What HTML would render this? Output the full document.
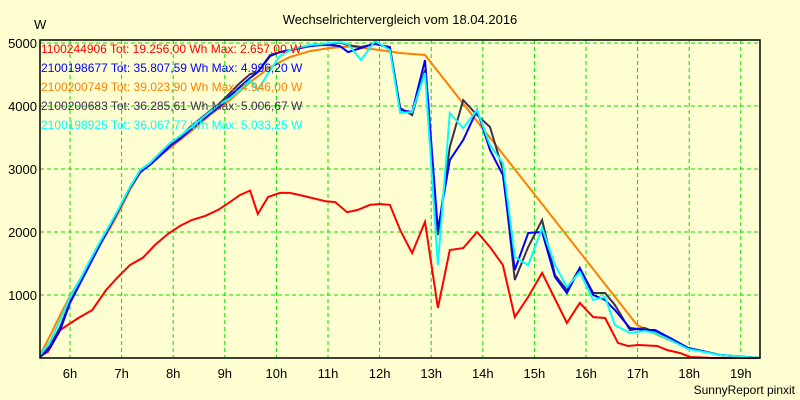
<!DOCTYPE html>
<html><head><meta charset="utf-8"><style>
body{margin:0;background:#ffffd2;}
svg{display:block;font-family:"Liberation Sans",sans-serif;}
</style></head><body>
<svg id="chart" width="800" height="400">
<rect x="0" y="0" width="800" height="400" fill="#ffffd2"/>
<text x="400" y="24" font-size="13" text-anchor="middle">Wechselrichtervergleich vom 18.04.2016</text>
<text x="34" y="29" font-size="13">W</text>
<text x="795" y="394" font-size="12" text-anchor="end">SunnyReport pinxit</text>
<g id="grid"></g><g id="series"></g><g id="legend"></g><g id="axes"></g>
</svg>
<script>
const xTicks=[6,7,8,9,10,11,12,13,14,15,16,17,18,19];
const yTicks=[1000,2000,3000,4000,5000];
const seriesNames=["1100244906","2100198677","2100200749","2100200683","2100198925"];
const seriesColors=["#ff0000","#0000ff","#ff8000","#403050","#00ffff"];
const legendTot=["19.256,00","35.807,59","39.023,90","36.285,61","36.067,77"];
const legendMax=["2.657,00","4.996,20","4.946,00","5.006,67","5.033,25"];
const redT=[5.42,5.57,5.81,6.16,6.43,6.70,6.93,7.16,7.41,7.65,7.90,8.13,8.36,8.62,8.87,9.10,9.29,9.49,9.64,9.84,10.07,10.26,10.46,10.69,10.94,11.14,11.37,11.58,11.81,12.01,12.20,12.40,12.63,12.88,13.13,13.36,13.62,13.89,14.14,14.39,14.62,14.88,15.15,15.63,15.88,16.14,16.37,16.62,16.81,17.01,17.38,17.57,17.82,18.02,18.46,19.37];
const redV=[30,95,445,635,760,1080,1285,1475,1590,1795,1970,2095,2190,2255,2350,2475,2585,2657,2285,2555,2620,2620,2585,2540,2490,2475,2315,2350,2430,2445,2430,2030,1665,2160,795,1715,1745,2000,1760,1475,650,970,1350,555,875,650,635,240,190,206,190,127,79,16,0,0];
const gridT=[5.42,5.61,5.81,6.00,6.19,6.39,6.58,6.78,6.97,7.16,7.36,7.55,7.74,7.94,8.13,8.33,8.52,8.71,8.91,9.10,9.29,9.49,9.64,9.88,10.07,10.26,10.46,10.65,10.84,11.04,11.23,11.39,11.64,11.91,12.20,12.40,12.63,12.88,13.13,13.36,13.62,13.89,14.14,14.39,14.62,14.88,15.15,15.40,15.63,15.88,16.14,16.37,16.56,16.85,17.14,17.34,17.63,17.98,18.60,19.37];
const blueV=[16,159,444,873,1174,1492,1793,2095,2396,2698,2952,3063,3206,3364,3476,3618,3745,3872,3999,4158,4301,4444,4539,4793,4856,4888,4920,4951,4967,4967,4951,4856,4920,4996,4920,3936,3904,4729,2031,3142,3460,3936,3301,2904,1397,1984,2000,1285,1032,1428,1000,920,762,476,444,444,317,159,48,0];
const darkV=[16,190,492,889,1190,1508,1809,2111,2396,2698,2952,3079,3238,3396,3507,3666,3793,3920,4047,4206,4364,4507,4539,4809,4856,4888,4920,4951,4967,4983,5007,4967,4936,4983,4936,3968,3856,4571,1952,3349,4094,3856,3666,2984,1238,1762,2190,1317,1079,1428,1032,1032,841,444,476,413,317,159,48,0];
const cyanV=[48,254,603,968,1238,1555,1841,2127,2412,2714,2984,3095,3253,3412,3523,3650,3777,3904,4031,4126,4253,4412,4253,4571,4793,4888,4936,4967,4983,4999,5015,4983,4729,5033,4888,3888,3904,4523,1476,3888,3650,3936,3380,3095,1603,1476,2063,1476,1127,1365,920,968,524,397,428,397,286,143,48,0];
const orangeT=[5.42,5.61,5.81,6.00,6.19,6.39,6.58,6.78,6.97,7.16,7.36,7.55,7.94,8.33,8.71,9.10,9.49,9.88,10.26,10.65,11.04,11.43,12.01,12.40,12.88,16.99,17.43,17.98,18.60,19.37];
const orangeV=[48,349,682,984,1238,1524,1793,2063,2349,2666,2936,3095,3333,3587,3856,4094,4380,4618,4777,4872,4920,4946,4888,4841,4809,524,349,159,48,0];

const NS="http://www.w3.org/2000/svg";
const X0=40,X1=760,Y0=358,YT=40;
function xs(t){return 70+(t-6)*51.6;}
function ys(v){return 358-v*0.063;}
function mk(tag,attrs,parent){const e=document.createElementNS(NS,tag);for(const k in attrs)e.setAttribute(k,attrs[k]);parent.appendChild(e);return e;}
const grid=document.getElementById('grid');
xTicks.forEach(h=>{
  const l=mk('line',{x1:xs(h),x2:xs(h),y1:YT,y2:Y0,stroke:'#00e000','stroke-dasharray':'4,3','stroke-width':1},grid);
  
  
  const t=mk('text',{x:xs(h),y:378,'font-size':13,'text-anchor':'middle'},grid);
  t.textContent=h+'h';
  
  
});
yTicks.forEach(v=>{
  const l=mk('line',{x1:X0,x2:X1,y1:ys(v),y2:ys(v),stroke:'#00e000','stroke-dasharray':'4,3','stroke-width':1},grid);
  
  
  const t=mk('text',{x:37,y:ys(v)+5,'font-size':13,'text-anchor':'end'},grid);
  t.textContent=v;
  
  
});
const sg=document.getElementById('series');
function drawLine(T,V,color,name){
  const pts=T.map((t,i)=>xs(t).toFixed(1)+','+ys(V[i]).toFixed(1)).join(' ');
  const p=mk('polyline',{points:pts,fill:'none',stroke:color,'stroke-width':2,'stroke-linejoin':'miter'},sg);
  
  
}
drawLine(redT,redV,seriesColors[0],'series-1100244906');
drawLine(orangeT,orangeV,seriesColors[2],'series-2100200749');
drawLine(gridT,darkV,seriesColors[3],'series-2100200683');
drawLine(gridT,blueV,seriesColors[1],'series-2100198677');
drawLine(gridT,cyanV,seriesColors[4],'series-2100198925');
const lg=document.getElementById('legend');
seriesNames.forEach((n,i)=>{
  const t=mk('text',{x:41,y:53+i*19,'font-size':12,fill:seriesColors[i]},lg);
  t.textContent=n+' Tot: '+legendTot[i]+' Wh Max: '+legendMax[i]+' W';
  
  
});
const ax=document.getElementById('axes');
const f=mk('path',{d:`M${X0},${YT} H${X1} V${Y0} H${X0} Z`,fill:'none',stroke:'#000','stroke-width':1.5},ax);


</script>
</body></html>
